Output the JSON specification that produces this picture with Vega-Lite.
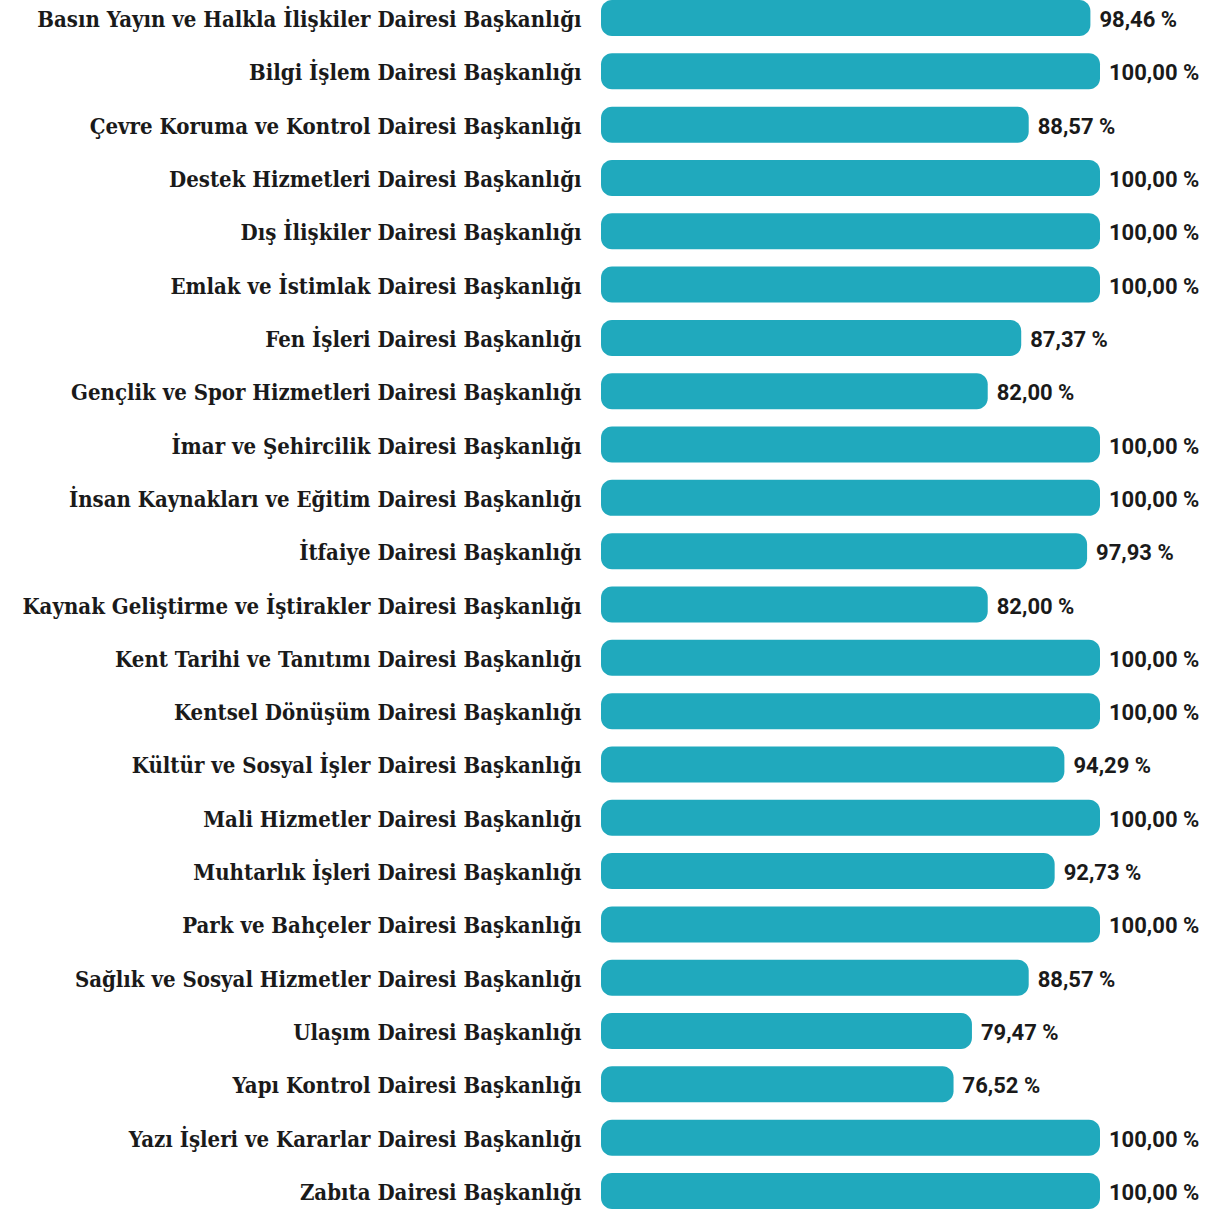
{
  "$schema": "https://vega.github.io/schema/vega-lite/v6.json",
  "autosize": {"type": "none"},
  "padding": {"left": 601, "right": 107, "top": 0, "bottom": 0},
  "width": 499,
  "height": 1209,
  "background": "#ffffff",
  "config": {"view": {"stroke": null}},
  "data": {"values": [
    {"birim": "Basın Yayın ve Halkla İlişkiler Dairesi Başkanlığı", "oran": 98.46, "label": "98,46 %"},
    {"birim": "Bilgi İşlem Dairesi Başkanlığı", "oran": 100.00, "label": "100,00 %"},
    {"birim": "Çevre Koruma ve Kontrol Dairesi Başkanlığı", "oran": 88.57, "label": "88,57  %"},
    {"birim": "Destek Hizmetleri Dairesi Başkanlığı", "oran": 100.00, "label": "100,00  %"},
    {"birim": "Dış İlişkiler Dairesi Başkanlığı", "oran": 100.00, "label": "100,00  %"},
    {"birim": "Emlak ve İstimlak Dairesi Başkanlığı", "oran": 100.00, "label": "100,00  %"},
    {"birim": "Fen İşleri Dairesi Başkanlığı", "oran": 87.37, "label": "87,37  %"},
    {"birim": "Gençlik ve Spor Hizmetleri Dairesi Başkanlığı", "oran": 82.00, "label": "82,00  %"},
    {"birim": "İmar ve Şehircilik Dairesi Başkanlığı", "oran": 100.00, "label": "100,00 %"},
    {"birim": "İnsan Kaynakları ve Eğitim Dairesi Başkanlığı", "oran": 100.00, "label": "100,00 %"},
    {"birim": "İtfaiye Dairesi Başkanlığı", "oran": 97.93, "label": "97,93 %"},
    {"birim": "Kaynak Geliştirme ve İştirakler Dairesi Başkanlığı", "oran": 82.00, "label": "82,00 %"},
    {"birim": "Kent Tarihi ve Tanıtımı Dairesi Başkanlığı", "oran": 100.00, "label": "100,00 %"},
    {"birim": "Kentsel Dönüşüm Dairesi Başkanlığı", "oran": 100.00, "label": "100,00 %"},
    {"birim": "Kültür ve Sosyal İşler Dairesi Başkanlığı", "oran": 94.29, "label": "94,29 %"},
    {"birim": "Mali Hizmetler Dairesi Başkanlığı", "oran": 100.00, "label": "100,00 %"},
    {"birim": "Muhtarlık İşleri Dairesi Başkanlığı", "oran": 92.73, "label": "92,73 %"},
    {"birim": "Park ve Bahçeler Dairesi Başkanlığı", "oran": 100.00, "label": "100,00 %"},
    {"birim": "Sağlık ve Sosyal Hizmetler Dairesi Başkanlığı", "oran": 88.57, "label": "88,57 %"},
    {"birim": "Ulaşım Dairesi Başkanlığı", "oran": 79.47, "label": "79,47 %"},
    {"birim": "Yapı Kontrol Dairesi Başkanlığı", "oran": 76.52, "label": "76,52 %"},
    {"birim": "Yazı İşleri ve Kararlar Dairesi Başkanlığı", "oran": 100.00, "label": "100,00 %"},
    {"birim": "Zabıta Dairesi Başkanlığı", "oran": 100.00, "label": "100,00 %"}
  ]},
  "encoding": {
    "y": {
      "field": "birim",
      "type": "nominal",
      "sort": null,
      "scale": {"paddingInner": 0.325, "paddingOuter": 0},
      "axis": {
        "title": null,
        "domain": false,
        "ticks": false,
        "labelPadding": 20,
        "labelLimit": 0,
        "labelOffset": 2,
        "labelFont": "DejaVu Serif Condensed, DejaVu Serif, serif",
        "labelFontWeight": "bold",
        "labelFontSize": 22,
        "labelColor": "#1a1a1a"
      }
    }
  },
  "layer": [
    {
      "mark": {"type": "bar", "color": "#20a9bd", "cornerRadius": 11},
      "encoding": {
        "x": {"field": "oran", "type": "quantitative", "scale": {"domain": [20, 100], "zero": false}, "axis": null},
        "x2": {"datum": 20}
      }
    },
    {
      "mark": {"type": "text", "align": "left", "baseline": "middle", "dx": 9, "dy": 2, "font": "Roboto", "fontWeight": "bold", "fontSize": 22, "color": "#1a1a1a"},
      "encoding": {
        "x": {"field": "oran", "type": "quantitative"},
        "text": {"field": "label"}
      }
    }
  ]
}
